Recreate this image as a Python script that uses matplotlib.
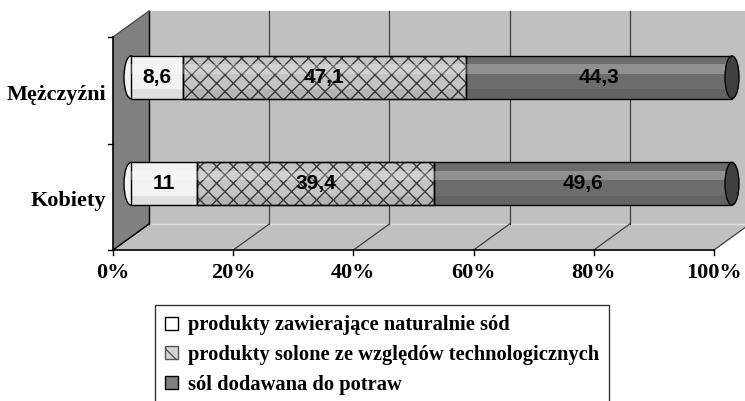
import matplotlib
matplotlib.use("Agg")
import matplotlib.pyplot as plt
from matplotlib.patches import Polygon, Ellipse, Rectangle
import numpy as np

# ---- data ----
categories = ["Kobiety", "Mężczyźni"]
series_names = ["produkty zawierające naturalnie sód",
                "produkty solone ze względów technologicznych",
                "sól dodawana do potraw"]
natural = [11, 8.6]
technological = [39.4, 47.1]
added = [49.6, 44.3]
value_labels = [["11", "8,6"], ["39,4", "47,1"], ["49,6", "44,3"]]
x_ticks = [0, 20, 40, 60, 80, 100]
x_ticklabels = ["0%", "20%", "40%", "60%", "80%", "100%"]

W, H, DPI = 745, 401, 100
fig = plt.figure(figsize=(W / DPI, H / DPI), dpi=DPI)
fig.patch.set_facecolor("white")

# front plane of the 3D box (pixels)
x0_px, x1_px = 113, 714
ytop_px, ybot_px = 37, 250
ax = fig.add_axes([x0_px / W, 1 - ybot_px / H, (x1_px - x0_px) / W, (ybot_px - ytop_px) / H])
ax.set_xlim(0, 100)
ax.set_ylim(-0.5, 1.5)
ax.axis("off")

# depth offset (pixels) -> data units
depth_dx_px, depth_dy_px = 36, 26
ppx = (x1_px - x0_px) / 100.0
ppy = (ybot_px - ytop_px) / 2.0
DX = depth_dx_px / ppx
DY = depth_dy_px / ppy

xmin, xmax, ymin, ymax = 0, 100, -0.5, 1.5
wall = "#c0c0c0"
side = "#808080"

# back wall
ax.add_patch(Polygon([(xmin + DX, ymin + DY), (xmax + DX, ymin + DY), (xmax + DX, ymax + DY), (xmin + DX, ymax + DY)],
                     closed=True, facecolor=wall, edgecolor="none", clip_on=False, zorder=1))
# floor
ax.add_patch(Polygon([(xmin, ymin), (xmax, ymin), (xmax + DX, ymin + DY), (xmin + DX, ymin + DY)],
                     closed=True, facecolor=wall, edgecolor="none", clip_on=False, zorder=1))
# left wall
ax.add_patch(Polygon([(xmin, ymin), (xmin + DX, ymin + DY), (xmin + DX, ymax + DY), (xmin, ymax)],
                     closed=True, facecolor=side, edgecolor="none", clip_on=False, zorder=1))
# floor back edge highlight
ax.plot([xmin + DX, xmax + DX], [ymin + DY, ymin + DY], color="#e0e0e0", lw=1, clip_on=False, zorder=2)
# gridlines on back wall and floor
for t in x_ticks:
    if t > 0:
        ax.plot([t + DX, t + DX], [ymin + DY, ymax + DY], color="#404040", lw=0.9, clip_on=False, zorder=2)
    ax.plot([t, t + DX], [ymin, ymin + DY], color="#404040", lw=0.9, clip_on=False, zorder=2)
# box edges
ax.plot([xmin + DX, xmin + DX], [ymin + DY, ymax + DY], color="black", lw=1, clip_on=False, zorder=2)
ax.plot([xmin, xmin + DX], [ymin, ymin + DY], color="black", lw=1, clip_on=False, zorder=2)
ax.plot([xmin, xmin + DX], [ymax, ymax + DY], color="#505050", lw=1, clip_on=False, zorder=2)
# front axes
ax.plot([xmin, xmax], [ymin, ymin], color="black", lw=1.2, clip_on=False, zorder=3)
ax.plot([xmin, xmin], [ymin, ymax], color="black", lw=1.2, clip_on=False, zorder=3)
tick_len_y = 5 / ppy
tick_len_x = 5 / ppx
for t in x_ticks:
    ax.plot([t, t], [ymin, ymin - tick_len_y], color="black", lw=1, clip_on=False, zorder=3)
for yb in [-0.5, 0.5, 1.5]:
    ax.plot([xmin, xmin - tick_len_x], [yb, yb], color="black", lw=1, clip_on=False, zorder=3)

serif = dict(family="Liberation Serif", weight="bold")
for t, lab in zip(x_ticks, x_ticklabels):
    ax.text(t, ymin - 23 / ppy, lab, ha="center", va="center", fontsize=16, clip_on=False, **serif)
for i, c in enumerate(categories):
    ax.text(xmin - 7 / ppx, i - 0.04, c, ha="right", va="center", fontsize=16, clip_on=False, **serif)

# ---- bars (at half depth) ----
bx, by = DX / 2, DY / 2
ypos = np.arange(len(categories)) + by
h = 0.40
series = [natural, technological, added]
faces = ["#f2f2f2", "#c4c4c4", "#6c6c6c"]
hatches = [None, "xx", None]
hatch_col = ["black", "#3c3c3c", "black"]
left = np.zeros(len(categories))
cap_w = 14 / ppx
# left caps (white bulge)
for yi in ypos:
    ax.add_patch(Ellipse((bx, yi), cap_w, h, facecolor=faces[0], edgecolor="black", lw=1,
                         zorder=4, clip_on=False))
for k, vals in enumerate(series):
    vals = np.array(vals, dtype=float)
    bars = ax.barh(ypos, vals, left=left + bx, height=h, color=faces[k], edgecolor="black",
                   linewidth=1, zorder=5, label=series_names[k])
    for b in bars:
        b.set_clip_on(False)
        if hatches[k]:
            b.set_hatch(hatches[k])
            b.set_edgecolor(hatch_col[k])
    if hatches[k]:
        ob = ax.barh(ypos, vals, left=left + bx, height=h, color="none", edgecolor="black",
                     linewidth=1, zorder=6)
        for b in ob:
            b.set_clip_on(False)
    # cylinder shading stripes
    for yi, l, v in zip(ypos, left, vals):
        ax.add_patch(Rectangle((l + bx, yi + h * 0.08), v, h * 0.22, facecolor="white", alpha=0.25,
                               edgecolor="none", zorder=6, clip_on=False))
        ax.add_patch(Rectangle((l + bx, yi - h * 0.5), v, h * 0.22, facecolor="black", alpha=0.08,
                               edgecolor="none", zorder=6, clip_on=False))
    for yi, l, v, lab in zip(ypos, left, vals, value_labels[k]):
        ax.text(l + bx + v / 2, yi, lab, ha="center", va="center", fontsize=15,
                family="Liberation Sans", weight="bold", color="black", zorder=8)
    left += vals
# right caps
for yi, l in zip(ypos, left):
    ax.add_patch(Ellipse((l + bx, yi), cap_w, h, facecolor="#404040", edgecolor="black", lw=1,
                         zorder=7, clip_on=False))

# legend
leg_handles = [
    Rectangle((0, 0), 1, 1, facecolor="white", edgecolor="black", lw=1),
    Rectangle((0, 0), 1, 1, facecolor="#d4d4d4", edgecolor="#555555", hatch="\\\\", lw=1),
    Rectangle((0, 0), 1, 1, facecolor="#808080", edgecolor="black", lw=1),
]
leg = fig.legend(leg_handles, series_names, loc="upper left",
                 bbox_to_anchor=(155 / W, 1 - 305 / H), frameon=True, fancybox=False,
                 prop=dict(family="Liberation Serif", weight="bold", size=14.8),
                 handlelength=0.6, handleheight=0.6, handletextpad=0.5, labelspacing=0.47,
                 borderpad=0.5, borderaxespad=0)
leg.get_frame().set_edgecolor("black")
leg.get_frame().set_linewidth(1)

fig.savefig("out.png", dpi=DPI)
